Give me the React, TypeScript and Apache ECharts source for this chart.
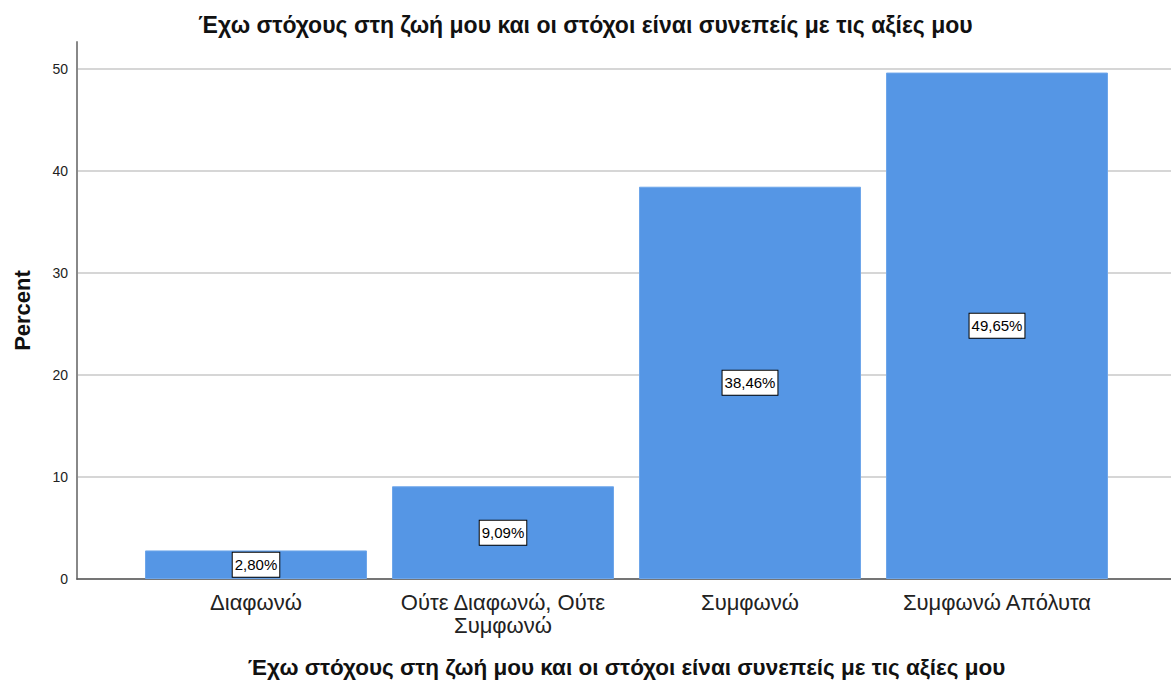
import React, { useEffect, useRef } from "react";
import * as echarts from "echarts";

const TITLE = "Έχω στόχους στη ζωή μου και οι στόχοι είναι συνεπείς με τις αξίες μου";
const categories = ["Διαφωνώ", "Ούτε Διαφωνώ, Ούτε Συμφωνώ", "Συμφωνώ", "Συμφωνώ Απόλυτα"];
const percents = [2.8, 9.09, 38.46, 49.65];
const yTicks = [0, 10, 20, 30, 40, 50];

const FONT = "'Liberation Sans', Arial, sans-serif";
const WRAP_CHARS = 18;

function wrapLabel(s: string): string {
  const words = s.split(" ");
  const lines: string[] = [];
  let cur = "";
  for (const w of words) {
    const next = cur ? cur + " " + w : w;
    if (next.length > WRAP_CHARS && cur) {
      lines.push(cur);
      cur = w;
    } else {
      cur = next;
    }
  }
  if (cur) lines.push(cur);
  return lines.join("\n");
}

export default function App() {
  const ref = useRef<HTMLDivElement>(null);
  useEffect(() => {
    if (!ref.current) return;
    const chart = echarts.init(ref.current, null, { renderer: "svg" });
    const yMax = yTicks[yTicks.length - 1];
    chart.setOption({
      animation: false,
      textStyle: { fontFamily: FONT },
      title: {
        text: TITLE,
        left: "center",
        top: 8,
        textStyle: { fontFamily: FONT, fontSize: 23, fontWeight: "bold", color: "#111" },
      },
      grid: [
        { left: 77, right: 0, top: 42, bottom: 102, containLabel: false, outerBoundsMode: "none" },
        { left: 77, right: 0, top: 69, bottom: 102, containLabel: false, outerBoundsMode: "none" },
        { left: 132.5, right: 50.5, top: 69, bottom: 102, containLabel: false, outerBoundsMode: "none" },
      ],
      xAxis: [
        { type: "value", gridIndex: 0, show: false },
        {
          type: "value",
          gridIndex: 1,
          axisLine: { show: true, lineStyle: { color: "#555", width: 1.5 } },
          axisTick: { show: false },
          axisLabel: { show: false },
          splitLine: { show: false },
        },
        {
          type: "category",
          gridIndex: 2,
          data: categories,
          axisLine: { show: false },
          axisTick: { show: false },
          axisLabel: {
            interval: 0,
            margin: 12,
            fontSize: 22,
            lineHeight: 23,
            color: "#222",
            hideOverlap: false,
            fontFamily: FONT,
            formatter: (v: string) => wrapLabel(v),
          },
          name: TITLE,
          nameLocation: "middle",
          nameGap: 77,
          nameMoveOverlap: false,
          nameTextStyle: { fontFamily: FONT, fontSize: 22.5, fontWeight: "bold", color: "#111" },
        },
      ],
      yAxis: [
        {
          type: "value",
          gridIndex: 0,
          min: 0,
          max: 52.65,
          axisLine: { show: true, lineStyle: { color: "#888", width: 2 } },
          axisTick: { show: false },
          axisLabel: { show: false },
          splitLine: { show: false },
          name: "Percent",
          nameLocation: "middle",
          nameGap: 44,
          nameMoveOverlap: false,
          nameTextStyle: { fontFamily: FONT, fontSize: 22, fontWeight: "bold", color: "#111" },
        },
        {
          type: "value",
          gridIndex: 1,
          min: 0,
          max: yMax,
          interval: 10,
          axisLine: { show: false },
          axisTick: { show: false },
          axisLabel: { margin: 9, fontSize: 14, color: "#222", fontFamily: FONT },
          splitLine: { show: true, lineStyle: { color: "#d6d6d6", width: 2 } },
        },
        {
          type: "value",
          gridIndex: 2,
          min: 0,
          max: yMax,
          show: false,
        },
      ],
      series: [
        {
          type: "bar",
          xAxisIndex: 2,
          yAxisIndex: 2,
          data: percents,
          barWidth: 222,
          itemStyle: { color: "#5596e5", borderColor: "#6ea6ea", borderWidth: 1 },
          label: {
            show: true,
            position: "inside",
            formatter: (p: any) => p.value.toFixed(2).replace(".", ",") + "%",
            fontFamily: FONT,
            fontSize: 15,
            color: "#000",
            backgroundColor: "#fff",
            borderColor: "#000",
            borderWidth: 1,
            padding: [5, 2, 4, 2],
          },
        },
      ],
    });
    return () => chart.dispose();
  }, []);
  return <div ref={ref} style={{ width: 1171, height: 681, position: "absolute", left: 0, top: 0 }} />;
}
